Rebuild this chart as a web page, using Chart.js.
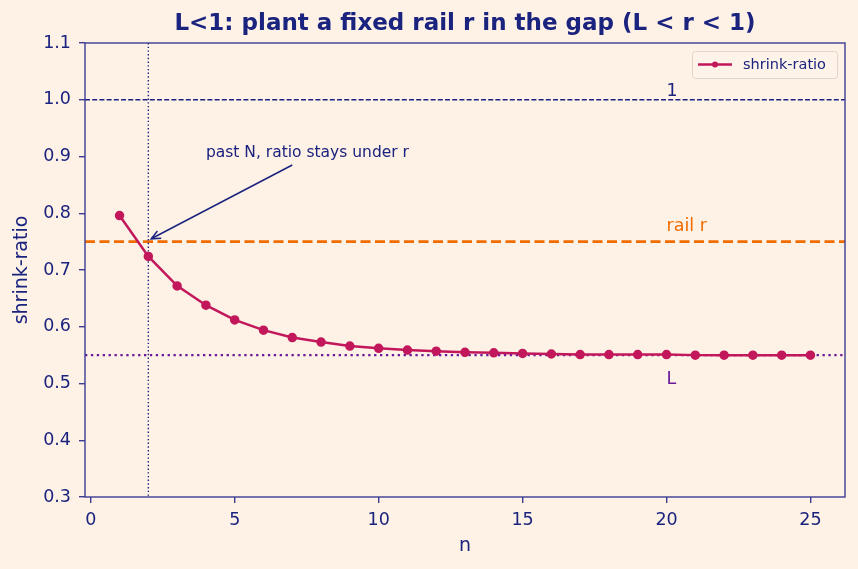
<!DOCTYPE html>
<html>
<head>
<meta charset="utf-8">
<script src="https://cdn.jsdelivr.net/npm/chart.js@4.4.1/dist/chart.umd.min.js"></script>
<style>
  html, body { margin: 0; padding: 0; background: #fef1e6; }
  #wrap { width: 858px; height: 569px; }
</style>
</head>
<body>
<div id="wrap"><canvas id="c" width="858" height="569"></canvas></div>
<script>
// --- Data ---
const nValues = [1, 2, 3, 4, 5, 6, 7, 8, 9, 10, 11, 12, 13, 14, 15, 16, 17, 18, 19, 20, 21, 22, 23, 24, 25];
const shrinkRatio = [0.796, 0.724, 0.672, 0.638, 0.612, 0.594, 0.581, 0.573, 0.566, 0.562, 0.559, 0.557, 0.555, 0.554, 0.553,
                     0.552, 0.551, 0.551, 0.551, 0.551, 0.550, 0.550, 0.550, 0.550, 0.550];
const xTicks = [0, 5, 10, 15, 20, 25];
const yTicks = [0.3, 0.4, 0.5, 0.6, 0.7, 0.8, 0.9, 1.0, 1.1];
const limitL = 0.55;
const railR = 0.75;
const upperOne = 1.0;
const crossN = 2;

const NAVY = '#1a237e';
const FRAME = '#3c3c94';
const FONT = "'DejaVu Sans', sans-serif";

// --- Reference lines, labels, arrow, legend, frame ---
const overlay = {
    id: 'overlay',
    beforeDraw(chart) {
        const c = chart.ctx;
        c.save();
        c.fillStyle = '#fef1e6';
        c.fillRect(0, 0, chart.width, chart.height);
        c.restore();
    },
    beforeDatasetsDraw(chart) {
        const { ctx: c, chartArea: a, scales: { x, y } } = chart;
        const hline = (v, color, w, dash) => {
            c.save();
            c.strokeStyle = color; c.lineWidth = w; c.setLineDash(dash);
            c.beginPath();
            c.moveTo(a.left, y.getPixelForValue(v));
            c.lineTo(a.right, y.getPixelForValue(v));
            c.stroke();
            c.restore();
        };
        hline(upperOne, NAVY, 1.4, [5, 2.2]);
        hline(railR, '#ef6c00', 2.8, [10, 4.5]);
        hline(limitL, '#6a1b9a', 2.3, [2.3, 3.6]);

        // vertical at N
        c.save();
        c.strokeStyle = NAVY; c.lineWidth = 1.4; c.setLineDash([1.4, 2.3]);
        c.beginPath();
        c.moveTo(x.getPixelForValue(crossN), a.top);
        c.lineTo(x.getPixelForValue(crossN), a.bottom);
        c.stroke();
        c.restore();
    },
    afterDatasetsDraw(chart) {
        const { ctx: c, chartArea: a, scales: { x, y } } = chart;
        c.save();
        c.font = '17.5px ' + FONT;
        c.textBaseline = 'alphabetic';
        c.fillStyle = NAVY;
        c.fillText('1', x.getPixelForValue(20), y.getPixelForValue(1.007));
        c.fillStyle = '#ef6c00';
        c.fillText('rail r', x.getPixelForValue(20), y.getPixelForValue(0.769));
        c.fillStyle = '#6a1b9a';
        c.fillText('L', x.getPixelForValue(20), y.getPixelForValue(0.499));

        // annotation
        c.fillStyle = NAVY;
        c.font = '15.5px ' + FONT;
        c.fillText('past N, ratio stays under r', x.getPixelForValue(4), y.getPixelForValue(0.9));
        const x0 = x.getPixelForValue(7.0), y0 = y.getPixelForValue(0.885);
        const x1 = x.getPixelForValue(2.1), y1 = y.getPixelForValue(0.755);
        c.strokeStyle = NAVY; c.lineWidth = 1.5;
        c.beginPath(); c.moveTo(x0, y0); c.lineTo(x1, y1); c.stroke();
        const ang = Math.atan2(y0 - y1, x0 - x1);
        c.beginPath();
        c.moveTo(x1 + 10 * Math.cos(ang - 0.42), y1 + 10 * Math.sin(ang - 0.42));
        c.lineTo(x1, y1);
        c.lineTo(x1 + 10 * Math.cos(ang + 0.42), y1 + 10 * Math.sin(ang + 0.42));
        c.stroke();

        // legend
        const lx = 692, ly = 51, lw = 145, lh = 27;
        c.fillStyle = 'rgba(254,243,233,0.85)';
        c.strokeStyle = '#e0d5cc'; c.lineWidth = 1;
        c.beginPath(); c.roundRect(lx + 0.5, ly + 0.5, lw, lh, 3); c.fill(); c.stroke();
        c.strokeStyle = '#c2185b'; c.lineWidth = 2.5;
        c.beginPath(); c.moveTo(lx + 6, ly + 13.5); c.lineTo(lx + 40, ly + 13.5); c.stroke();
        c.fillStyle = '#c2185b';
        c.beginPath(); c.arc(lx + 23, ly + 13.5, 3, 0, Math.PI * 2); c.fill();
        c.fillStyle = NAVY; c.font = '14.5px ' + FONT; c.textBaseline = 'middle';
        c.fillText('shrink-ratio', lx + 51, ly + 14);

        // frame
        c.strokeStyle = FRAME; c.lineWidth = 1.4;
        c.strokeRect(a.left, a.top, a.right - a.left, a.bottom - a.top);

        // title
        c.fillStyle = NAVY; c.font = 'bold 23px ' + FONT;
        c.textAlign = 'center'; c.textBaseline = 'middle';
        c.fillText('L<1: plant a fixed rail r in the gap (L < r < 1)', (a.left + a.right) / 2, 24);
        c.restore();
    }
};

new Chart(document.getElementById('c'), {
    type: 'line',
    data: {
        datasets: [{
            label: 'shrink-ratio',
            data: nValues.map((n, i) => ({ x: n, y: shrinkRatio[i] })),
            borderColor: '#c2185b',
            backgroundColor: '#c2185b',
            borderWidth: 2.5,
            pointRadius: 3.5,
            pointHoverRadius: 3.5,
            tension: 0
        }]
    },
    options: {
        responsive: false,
        animation: false,
        layout: { padding: { top: 43, right: 13, left: 0, bottom: 0 } },
        plugins: { legend: { display: false }, title: { display: false }, tooltip: { enabled: false } },
        scales: {
            x: {
                type: 'linear', min: -0.2, max: 26.2,
                afterBuildTicks: s => { s.ticks = xTicks.map(v => ({ value: v })); },
                afterFit: s => { s.height = 72; },
                grid: { display: true, drawOnChartArea: false, tickLength: 6, color: FRAME, lineWidth: 1.4 },
                border: { display: false },
                ticks: { color: NAVY, font: { family: FONT, size: 17.5 }, padding: 7, maxRotation: 0 },
                title: { display: true, text: 'n', color: NAVY, font: { family: FONT, size: 19 }, padding: { top: 4, bottom: 12 } }
            },
            y: {
                min: 0.3, max: 1.1,
                afterBuildTicks: s => { s.ticks = yTicks.map(v => ({ value: v })); },
                afterFit: s => { s.width = 85; },
                grid: { display: true, drawOnChartArea: false, tickLength: 6, color: FRAME, lineWidth: 1.4 },
                border: { display: false },
                ticks: { color: NAVY, font: { family: FONT, size: 17.5 }, padding: 8, callback: v => v.toFixed(1) },
                title: { display: true, text: 'shrink-ratio', color: NAVY, font: { family: FONT, size: 19 }, padding: { top: 11, bottom: 4 } }
            }
        }
    },
    plugins: [overlay]
});
</script>
</body>
</html>
